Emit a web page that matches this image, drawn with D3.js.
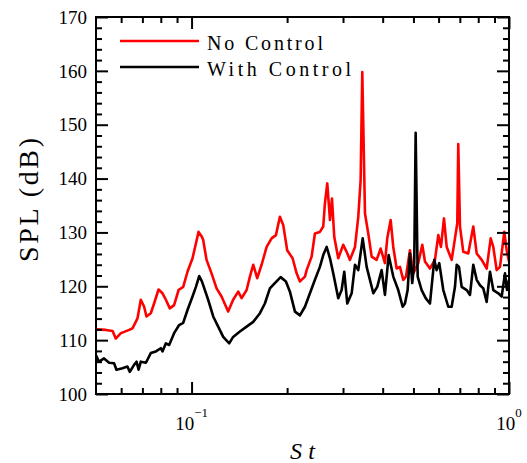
<!DOCTYPE html>
<html>
<head>
<meta charset="utf-8">
<script src="https://cdn.jsdelivr.net/npm/d3@7"></script>
<style>
  html, body { margin: 0; padding: 0; background: #fff; }
  svg { display: block; }
  text { font-family: "Liberation Serif", "DejaVu Serif", serif; fill: #000; }
</style>
</head>
<body>
<svg id="chart"></svg>
<script>
// No Control (red)
const noControlSt = [0.0500, 0.0537, 0.0564, 0.0577, 0.0599, 0.0636, 0.0652, 0.0676, 0.0692, 0.0709,
    0.0721, 0.0744, 0.0762, 0.0787, 0.0810, 0.0830, 0.0854, 0.0881, 0.0910, 0.0941,
    0.0971, 0.1007, 0.1026, 0.1052, 0.1078, 0.1088, 0.1115, 0.1156, 0.1199, 0.1243,
    0.1304, 0.1352, 0.1403, 0.1438, 0.1491, 0.1527, 0.1564, 0.1610, 0.1662, 0.1724,
    0.1787, 0.1844, 0.1898, 0.1944, 0.2001, 0.2081, 0.2143, 0.2195, 0.2276, 0.2304,
    0.2389, 0.2447, 0.2537, 0.2599, 0.2631, 0.2676, 0.2729, 0.2769, 0.2815, 0.2898,
    0.3005, 0.3080, 0.3155, 0.3272, 0.3351, 0.3409, 0.3450, 0.3518, 0.3603, 0.3693,
    0.3828, 0.3941, 0.4066, 0.4135, 0.4239, 0.4319, 0.4427, 0.4534, 0.4644, 0.4736,
    0.4875, 0.4994, 0.5178, 0.5331, 0.5436, 0.5636, 0.5845, 0.5987, 0.6105, 0.6240,
    0.6364, 0.6598, 0.6758, 0.6872, 0.6921, 0.7008, 0.7178, 0.7442, 0.7718, 0.7910,
    0.8204, 0.8505, 0.8756, 0.8923, 0.9145, 0.9367, 0.9665, 0.9833, 1.0000];
const noControlSpl = [112.0, 111.9, 111.7, 110.3, 111.3, 111.9, 112.2, 114.1, 117.5, 116.2,
    114.4, 115.0, 116.8, 119.4, 118.7, 117.5, 115.9, 116.5, 119.3, 119.9,
    122.7, 125.2, 127.3, 130.1, 129.2, 128.6, 124.9, 122.4, 119.6, 118.1,
    115.3, 117.5, 119.0, 117.8, 119.3, 121.8, 124.0, 121.5, 124.0, 127.3,
    128.9, 129.5, 132.9, 131.4, 126.7, 125.2, 122.4, 120.9, 121.8, 123.0,
    125.5, 129.8, 130.1, 131.1, 135.4, 139.1, 132.3, 136.3, 129.2, 125.2,
    127.7, 126.4, 124.9, 127.3, 132.9, 139.7, 159.8, 133.5, 129.8, 125.5,
    124.9, 127.0, 124.3, 128.9, 132.3, 127.3, 123.3, 123.6, 121.2, 121.8,
    126.7, 122.4, 124.3, 127.7, 124.6, 123.3, 124.9, 129.5, 127.3, 132.6,
    127.3, 124.9, 128.9, 131.7, 146.4, 131.1, 126.4, 126.1, 131.1, 126.1,
    124.9, 123.3, 128.9, 127.3, 123.0, 123.6, 130.1, 126.7, 124.6];

// With Control (black)
const withControlSt = [0.0500, 0.0511, 0.0530, 0.0550, 0.0570, 0.0580, 0.0606, 0.0628, 0.0639, 0.0659,
    0.0671, 0.0681, 0.0692, 0.0718, 0.0744, 0.0772, 0.0800, 0.0810, 0.0830, 0.0850,
    0.0881, 0.0914, 0.0941, 0.0971, 0.1007, 0.1032, 0.1057, 0.1078, 0.1088, 0.1128,
    0.1170, 0.1213, 0.1258, 0.1314, 0.1352, 0.1420, 0.1491, 0.1564, 0.1642, 0.1702,
    0.1765, 0.1830, 0.1908, 0.1983, 0.2041, 0.2117, 0.2195, 0.2276, 0.2360, 0.2447,
    0.2537, 0.2599, 0.2664, 0.2729, 0.2795, 0.2898, 0.2970, 0.3027, 0.3094, 0.3194,
    0.3272, 0.3351, 0.3460, 0.3561, 0.3647, 0.3737, 0.3845, 0.3970, 0.4066, 0.4177,
    0.4319, 0.4478, 0.4624, 0.4701, 0.4794, 0.4875, 0.4957, 0.5029, 0.5081, 0.5156,
    0.5307, 0.5464, 0.5636, 0.5816, 0.5917, 0.6030, 0.6209, 0.6437, 0.6598, 0.6758,
    0.6842, 0.6957, 0.7094, 0.7357, 0.7535, 0.7718, 0.7910, 0.8102, 0.8299, 0.8505,
    0.8712, 0.8923, 0.9253, 0.9484, 0.9714, 0.9856, 1.0000];
const withControlSpl = [107.2, 106.0, 106.6, 105.8, 105.7, 104.5, 104.8, 105.1, 104.1, 105.4,
    106.0, 104.5, 106.0, 105.8, 107.6, 107.9, 108.5, 107.9, 109.4, 109.1,
    111.3, 112.8, 113.2, 115.6, 118.1, 119.9, 121.9, 120.9, 120.2, 117.5,
    114.4, 112.5, 110.6, 109.4, 110.6, 111.6, 112.5, 113.4, 115.0, 116.8,
    119.6, 120.6, 121.7, 120.9, 119.0, 115.3, 114.6, 116.2, 118.7, 121.2,
    123.6, 125.8, 127.3, 125.2, 122.4, 117.8, 119.3, 122.7, 116.8, 118.7,
    124.0, 123.0, 128.9, 123.6, 121.2, 118.7, 119.9, 123.0, 118.4, 125.8,
    121.8, 119.3, 116.2, 116.8, 119.3, 126.1, 120.6, 124.3, 148.5, 121.8,
    119.3, 117.8, 116.8, 124.9, 123.0, 124.3, 119.3, 116.2, 116.2, 119.9,
    124.0, 123.6, 119.9, 119.3, 118.4, 124.0, 121.2, 120.2, 119.6, 117.1,
    122.7, 119.3, 118.7, 118.1, 122.4, 119.3, 121.2];

const xMajorTicks = [0.1, 1];
const xMinorTicks = [0.06, 0.07, 0.08, 0.09, 0.2, 0.3, 0.4, 0.5, 0.6, 0.7, 0.8, 0.9];
const xTickLabels = [["10", "\u22121"], ["10", "0"]];
const yMajorTicks = [100, 110, 120, 130, 140, 150, 160, 170];
const yMinorTicks = d3.range(100, 171, 2).filter(v => v % 10 !== 0);
const seriesNames = ["No Control", "With Control"];
const seriesColors = ["#ff0000", "#000000"];

const svgWidth = 527, svgHeight = 463;
const plotLeft = 96, plotRight = 509, plotTop = 17, plotBottom = 394;

const svg = d3.select("#chart").attr("width", svgWidth).attr("height", svgHeight);

const x = d3.scaleLog().domain([0.05, 1]).range([plotLeft, plotRight]);
const y = d3.scaleLinear().domain([100, 170]).range([plotBottom, plotTop]);

svg.append("defs").append("clipPath").attr("id", "plot-clip")
    .append("rect")
    .attr("x", plotLeft).attr("y", plotTop)
    .attr("width", plotRight - plotLeft).attr("height", plotBottom - plotTop);

// curves
const line = d3.line()
    .x(d => x(d[0]))
    .y(d => y(d[1]));

const series = [
    d3.zip(noControlSt, noControlSpl),
    d3.zip(withControlSt, withControlSpl)
];

series.forEach((data, i) => {
    svg.append("path")
        .attr("clip-path", "url(#plot-clip)")
        .attr("d", line(data))
        .attr("fill", "none")
        .attr("stroke", seriesColors[i])
        .attr("stroke-width", 2.6)
        .attr("stroke-linejoin", "round");
});

// ticks (inward, on all four sides)
function addTicks(axis, pos, values, size) {
    const g = svg.append("g")
        .attr("transform", pos)
        .call(axis.tickValues(values).tickSize(-size).tickSizeOuter(0).tickFormat(""));
    g.select(".domain").remove();
    g.selectAll("line").attr("stroke", "#000").attr("stroke-width", 2);
}

addTicks(d3.axisBottom(x), `translate(0,${plotBottom})`, xMinorTicks, 6);
addTicks(d3.axisBottom(x), `translate(0,${plotBottom})`, xMajorTicks, 12);
addTicks(d3.axisTop(x), `translate(0,${plotTop})`, xMinorTicks, 6);
addTicks(d3.axisTop(x), `translate(0,${plotTop})`, xMajorTicks, 12);
addTicks(d3.axisLeft(y), `translate(${plotLeft},0)`, yMinorTicks, 6);
addTicks(d3.axisLeft(y), `translate(${plotLeft},0)`, yMajorTicks, 12);
addTicks(d3.axisRight(y), `translate(${plotRight},0)`, yMinorTicks, 6);
addTicks(d3.axisRight(y), `translate(${plotRight},0)`, yMajorTicks, 12);

// frame
svg.append("rect")
    .attr("x", plotLeft).attr("y", plotTop)
    .attr("width", plotRight - plotLeft).attr("height", plotBottom - plotTop)
    .attr("fill", "none")
    .attr("stroke", "#000")
    .attr("stroke-width", 2);

// y tick labels
svg.append("g").selectAll("text")
    .data(yMajorTicks)
    .join("text")
    .attr("x", plotLeft - 9)
    .attr("y", d => y(d))
    .attr("dy", "0.35em")
    .attr("text-anchor", "end")
    .attr("font-size", 19)
    .text(d => d);

// x tick labels
xMajorTicks.forEach((v, i) => {
    const t = svg.append("text")
        .attr("x", x(v))
        .attr("y", 430)
        .attr("text-anchor", "middle")
        .attr("font-size", 19);
    t.append("tspan").text(xTickLabels[i][0]);
    t.append("tspan")
        .attr("dy", -13)
        .attr("font-size", 13)
        .text(xTickLabels[i][1]);
});

// axis titles
svg.append("text")
    .attr("x", (plotLeft + plotRight) / 2)
    .attr("y", 459)
    .attr("text-anchor", "middle")
    .attr("font-size", 24)
    .attr("font-style", "italic")
    .attr("textLength", 25)
    .attr("lengthAdjust", "spacing")
    .text("St");

svg.append("text")
    .attr("transform", "translate(38,200) rotate(-90)")
    .attr("text-anchor", "middle")
    .attr("font-size", 28)
    .attr("textLength", 124)
    .attr("lengthAdjust", "spacing")
    .text("SPL (dB)");

// legend
const legendY = [41, 67];
const legendWidths = [116, 144];
seriesNames.forEach((name, i) => {
    svg.append("line")
        .attr("x1", 120).attr("x2", 199)
        .attr("y1", legendY[i]).attr("y2", legendY[i])
        .attr("stroke", seriesColors[i])
        .attr("stroke-width", 2.6);
    svg.append("text")
        .attr("x", 207)
        .attr("y", legendY[i] + 8.5)
        .attr("font-size", 20)
        .attr("textLength", legendWidths[i])
        .attr("lengthAdjust", "spacing")
        .text(name);
});
</script>
</body>
</html>
